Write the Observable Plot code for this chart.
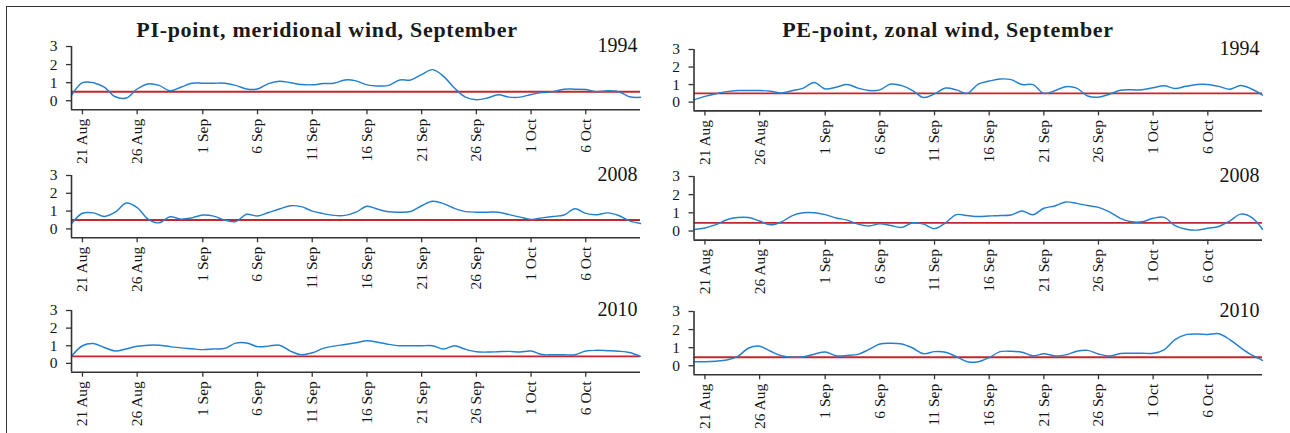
<!DOCTYPE html>
<html>
<head>
<meta charset="utf-8">
<script src="https://cdn.jsdelivr.net/npm/d3@7"></script>
<script src="https://cdn.jsdelivr.net/npm/@observablehq/plot@0.6"></script>
<style>
  html, body { margin: 0; padding: 0; background: #fff; }
  #wrap { position: relative; width: 1290px; height: 433px; overflow: hidden; font-family: "Liberation Serif", "DejaVu Serif", serif; }
  #wrap svg, #wrap svg text { font-family: "Liberation Serif", "DejaVu Serif", serif !important; }
  .frame { position: absolute; left: 6px; top: 6px; width: 1300px; height: 440px; border-top: 1.4px solid #333; border-left: 1.4px solid #333; }
  .title { position: absolute; font-weight: bold; font-size: 22px; letter-spacing: 0.7px; line-height: 1; color: #1a1a1a; white-space: nowrap; transform: translateX(-50%); }
  .panel { position: absolute; }
</style>
</head>
<body>
<div id="wrap">
  <div class="frame"></div>
</div>
<script>
// ---------- data ----------
const titles = ["PI-point, meridional wind, September", "PE-point, zonal wind, September"];
const years = ["1994", "2008", "2010"];
const firstDay = "20 Aug";   // first daily value
const lastDay = "11 Oct";    // end of x axis
const tickLabels = ["21 Aug", "26 Aug", "1 Sep", "6 Sep", "11 Sep", "16 Sep", "21 Sep", "26 Sep", "1 Oct", "6 Oct"];

// PI-point, meridional wind (daily, from 20 Aug)
const pi1994 = [0.3,1.0,1.0,0.75,0.22,0.15,0.65,0.93,0.85,0.55,0.75,0.97,0.97,0.97,0.97,0.85,0.65,0.65,0.95,1.08,1.0,0.9,0.88,0.95,0.97,1.15,1.1,0.88,0.82,0.85,1.15,1.15,1.45,1.72,1.35,0.7,0.2,0.06,0.15,0.33,0.2,0.2,0.35,0.45,0.5,0.64,0.64,0.62,0.5,0.55,0.5,0.22,0.19];
const pi2008 = [0.3,0.88,0.9,0.7,0.94,1.45,1.2,0.55,0.34,0.68,0.55,0.62,0.78,0.72,0.5,0.41,0.82,0.72,0.92,1.12,1.3,1.25,1.0,0.86,0.76,0.76,0.94,1.27,1.1,0.96,0.94,0.98,1.3,1.55,1.42,1.15,0.97,0.94,0.94,0.94,0.8,0.66,0.53,0.62,0.7,0.78,1.13,0.87,0.8,0.9,0.75,0.45,0.3];
const pi2010 = [0.4,1.0,1.13,0.9,0.7,0.82,0.97,1.03,1.03,0.95,0.88,0.83,0.78,0.82,0.85,1.15,1.16,0.95,0.98,1.03,0.7,0.49,0.6,0.85,0.98,1.07,1.17,1.28,1.2,1.08,1.0,1.0,1.0,1.0,0.82,1.0,0.8,0.66,0.64,0.66,0.68,0.65,0.7,0.5,0.49,0.49,0.49,0.7,0.74,0.72,0.69,0.62,0.4];
// PE-point, zonal wind (daily, from 20 Aug)
const pe1994 = [0.13,0.33,0.48,0.6,0.66,0.66,0.66,0.62,0.52,0.65,0.8,1.12,0.75,0.85,1.0,0.8,0.66,0.7,1.03,0.94,0.66,0.26,0.47,0.8,0.7,0.5,1.03,1.2,1.32,1.28,1.0,1.0,0.5,0.65,0.88,0.8,0.35,0.28,0.45,0.68,0.7,0.7,0.82,0.93,0.78,0.9,1.01,1.01,0.9,0.73,0.95,0.75,0.4];
const pe2008 = [0.08,0.17,0.35,0.62,0.74,0.74,0.55,0.34,0.5,0.85,1.0,1.0,0.9,0.72,0.6,0.38,0.28,0.4,0.3,0.2,0.45,0.38,0.13,0.45,0.9,0.85,0.8,0.83,0.85,0.88,1.1,0.9,1.25,1.38,1.6,1.52,1.4,1.3,1.05,0.7,0.51,0.51,0.7,0.75,0.3,0.1,0.05,0.15,0.25,0.55,0.93,0.75,0.1];
const pe2010 = [0.22,0.22,0.25,0.32,0.52,0.98,1.08,0.8,0.55,0.47,0.5,0.64,0.76,0.55,0.57,0.63,0.9,1.2,1.24,1.2,0.98,0.66,0.78,0.75,0.5,0.22,0.22,0.45,0.78,0.8,0.75,0.55,0.66,0.55,0.6,0.8,0.85,0.65,0.54,0.68,0.69,0.69,0.69,0.88,1.45,1.72,1.76,1.73,1.77,1.45,1.0,0.6,0.3];
// threshold (red) lines
const piThreshold = [0.5, 0.5, 0.4];
const peThreshold = [0.5, 0.45, 0.47];

// ---------- layout ----------
const parse = s => d3.utcParse("%d %b %Y")(s + " 2001");
const x0 = parse(firstDay), x1 = parse(lastDay);
const tickDates = tickLabels.map(parse);
const fmt = d3.utcFormat("%-d %b");
const serif = "Liberation Serif";

const layout = [
  {col: 0, row: 0, values: pi1994, thr: piThreshold[0], y3: 46,   yb: 109.3},
  {col: 0, row: 1, values: pi2008, thr: piThreshold[1], y3: 175,  yb: 237.3},
  {col: 0, row: 2, values: pi2010, thr: piThreshold[2], y3: 310,  yb: 371.7},
  {col: 1, row: 0, values: pe1994, thr: peThreshold[0], y3: 49.3, yb: 110.7},
  {col: 1, row: 1, values: pe2008, thr: peThreshold[1], y3: 175.7,yb: 239.3},
  {col: 1, row: 2, values: pe2010, thr: peThreshold[2], y3: 310.7,yb: 374}
];
const colGeom = [
  {left: 0,   marginLeft: 71,   marginRight: 5,  titleX: 327},
  {left: 645, marginLeft: 48.5, marginRight: 28, titleX: 948}
];

const wrap = document.getElementById("wrap");
const blue = "#2480cf", red = "#c3262c", axisCol = "#333", ink = "#151515";

titles.forEach((t, i) => {
  const d = document.createElement("div");
  d.className = "title";
  d.textContent = t;
  d.style.left = colGeom[i].titleX + "px";
  d.style.top = "19px";
  wrap.appendChild(d);
});

for (const p of layout) {
  const g = colGeom[p.col];
  const mt = 20, mb = 62;
  const h = p.yb - p.y3;
  const data = p.values.map((v, i) => ({date: d3.utcDay.offset(x0, i), v}));
  const chart = Plot.plot({
    width: 645,
    height: mt + h + mb,
    marginTop: mt,
    marginBottom: mb,
    marginLeft: g.marginLeft,
    marginRight: g.marginRight,
    style: {fontFamily: serif, color: axisCol, background: "transparent", overflow: "visible"},
    x: {type: "utc", domain: [x0, x1], label: null},
    y: {domain: [-0.5, 3], label: null},
    marks: [
      Plot.axisY({ticks: [0, 1, 2, 3], tickSize: 5, tickPadding: 9, fontSize: 15.5, fontFamily: serif, tickFormat: d3.format("d"), label: null, fill: ink, stroke: axisCol, strokeWidth: 1.3}),
      Plot.axisX({ticks: tickDates, tickFormat: fmt, tickRotate: -90, tickSize: 5, tickPadding: 4, fontSize: 15.5, fontFamily: serif, label: null, fill: ink, stroke: axisCol, strokeWidth: 1.3}),
      Plot.ruleY([p.thr], {stroke: red, strokeWidth: 1.9}),
      Plot.line(data, {x: "date", y: "v", curve: "catmull-rom", stroke: blue, strokeWidth: 1.45}),
      Plot.ruleX([x0], {stroke: axisCol, strokeWidth: 1.6}),
      Plot.ruleY([-0.5], {stroke: axisCol, strokeWidth: 1.6}),
      Plot.text([years[p.row]], {frameAnchor: "top-right", text: d => d, textAnchor: "end", lineAnchor: "bottom", dy: 6, dx: -3, fontSize: 20, fontFamily: serif, fill: ink})
    ]
  });
  chart.classList.add("panel");
  chart.style.left = g.left + "px";
  chart.style.top = (p.y3 - mt) + "px";
  wrap.appendChild(chart);
}
</script>
</body>
</html>
